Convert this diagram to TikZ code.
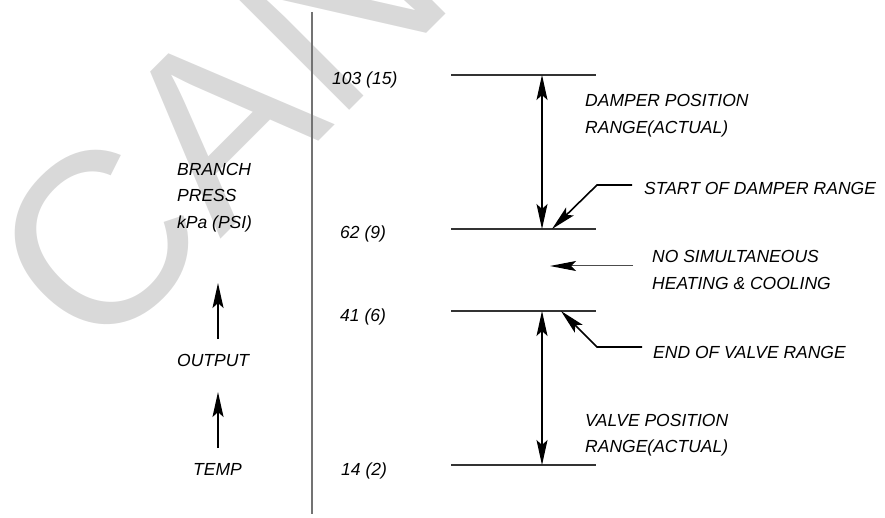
\documentclass[tikz,border=0pt]{standalone}
\usepackage{fontspec}
\setmainfont{Liberation Sans}
\usetikzlibrary{arrows.meta}
\begin{document}
\begin{tikzpicture}[x=1pt,y=-1pt,
  lbl/.style={font=\fontsize{17.5}{21}\selectfont\itshape, inner sep=0, anchor=base west},
  wmark/.style={font=\fontsize{244}{250}\selectfont, text=black!15, inner sep=0, anchor=base west, rotate=45},
  rangeline/.style={line width=1.2pt, draw=black!80},
  axis/.style={line width=1.5pt, draw=black!55},
  dimarrow/.style={line width=1.1pt, {Stealth[length=25pt,width=11pt,inset=5pt]}-{Stealth[length=25pt,width=11pt,inset=5pt]}},
  uparrow/.style={line width=2pt, -{Stealth[length=25pt,width=11pt,inset=5pt]}},
  leader/.style={line width=1.6pt, -{Stealth[length=25pt,width=11pt,inset=5pt]}},
  thinarrow/.style={line width=1pt, draw=black!70, -{Stealth[length=26pt,width=10pt,inset=5pt,color=black]}}]
\useasboundingbox (0,0) rectangle (885,518);
% watermark
\begin{scope}
  \clip (0,0) rectangle (885,518);
  \node[wmark] (wm) at (95.5,364) {CAN};
\end{scope}
% axis
\coordinate (axtop) at (312,12);
\coordinate (axbot) at (312,514);
\draw[axis] (axtop) -- (axbot);
% range lines
\coordinate (a1) at (451,75);  \coordinate (b1) at (596,75);
\coordinate (a2) at (451,229); \coordinate (b2) at (596,229);
\coordinate (a3) at (451,311); \coordinate (b3) at (596,311);
\coordinate (a4) at (451,465); \coordinate (b4) at (596,465);
\draw[rangeline] (a1) -- (b1);
\draw[rangeline] (a2) -- (b2);
\draw[rangeline] (a3) -- (b3);
\draw[rangeline] (a4) -- (b4);
% dimension arrows
\coordinate (d1) at (542,75);  \coordinate (d2) at (542,229);
\coordinate (d3) at (542,311); \coordinate (d4) at (542,465);
\draw[dimarrow] (d1) -- (d2);
\draw[dimarrow] (d3) -- (d4);
% pressure labels
\node[lbl] (p103) at (332,85) {103 (15)};
\node[lbl] (p62) at (340,239) {62 (9)};
\node[lbl] (p41) at (340,321) {41 (6)};
\node[lbl] (p14) at (341,475) {14 (2)};
% left labels
\node[lbl] (branch) at (177,176) {BRANCH};
\node[lbl] (press) at (177,202) {PRESS};
\node[lbl] (kpa) at (177,229) {kPa (PSI)};
\node[lbl] (output) at (177,366) {OUTPUT};
\node[lbl] (temp) at (193,475) {TEMP};
\coordinate (o1) at (218,339); \coordinate (o2) at (218,283);
\coordinate (t1) at (218,448); \coordinate (t2) at (218,392);
\draw[uparrow] (o1) -- (o2);
\draw[uparrow] (t1) -- (t2);
% right labels
\node[lbl] (dpos) at (585,107) {DAMPER POSITION};
\node[lbl] (drng) at (585,134) {RANGE(ACTUAL)};
\node[lbl] (start) at (644,195) {START OF DAMPER RANGE};
\node[lbl] (nosim) at (652,263) {NO SIMULTANEOUS};
\node[lbl] (heat) at (652,290) {HEATING \& COOLING};
\node[lbl] (endv) at (653,358) {END OF VALVE RANGE};
\node[lbl] (vpos) at (585,426) {VALVE POSITION};
\node[lbl] (vrng) at (585,452) {RANGE(ACTUAL)};
% leaders
\coordinate (s1) at (632,185); \coordinate (s2) at (597,185); \coordinate (s3) at (552,229);
\draw[leader] (s1) -- (s2) -- (s3);
\coordinate (n1) at (633,266); \coordinate (n2) at (550,266);
\draw[thinarrow] (n1) -- (n2);
\coordinate (e1) at (642,347); \coordinate (e2) at (597,347); \coordinate (e3) at (561,311);
\draw[leader] (e1) -- (e2) -- (e3);
\end{tikzpicture}
\end{document}
